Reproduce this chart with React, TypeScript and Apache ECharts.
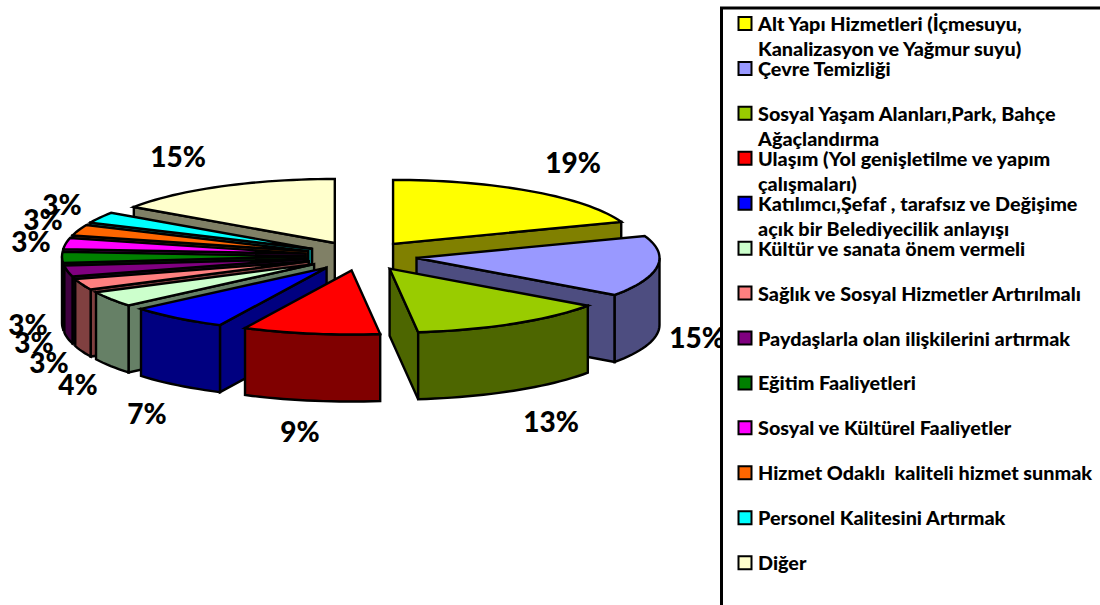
import React, { useEffect, useRef } from "react";
import * as echarts from "echarts";

const categories = [
  "Alt Yapı Hizmetleri (İçmesuyu,\nKanalizasyon ve Yağmur suyu)",
  "Çevre Temizliği",
  "Sosyal Yaşam Alanları,Park, Bahçe\nAğaçlandırma",
  "Ulaşım (Yol genişletilme ve yapım\nçalışmaları)",
  "Katılımcı,Şefaf , tarafsız ve Değişime\naçık bir Belediyecilik anlayışı",
  "Kültür ve sanata önem vermeli",
  "Sağlık ve Sosyal Hizmetler Artırılmalı",
  "Paydaşlarla olan ilişkilerini artırmak",
  "Eğitim Faaliyetleri",
  "Sosyal ve Kültürel Faaliyetler",
  "Hizmet Odaklı  kaliteli hizmet sunmak",
  "Personel Kalitesini Artırmak",
  "Diğer",
];
const values = [19.4, 15.4, 13.3, 9.1, 6.6, 3.9, 2.8, 2.8, 2.79, 2.79, 2.79, 2.79, 15.49];
const colors = ["#FFFF00", "#9999FF", "#99CC00", "#FF0000", "#0000FF", "#CCFFCC", "#FF8080", "#800080", "#008000", "#FF00FF", "#FF6600", "#00FFFF", "#FFFFCC"];
const labelPositions = [
  [573, 162], [697, 337], [551, 421], [300, 431], [147, 413], [78, 384],
  [49, 362], [34, 342], [28, 324], [31, 241], [43, 219], [62, 204], [178, 156],
];

const FONT = "Lato, Carlito, Calibri, sans-serif";
const CX = 361, CY = 256, RX = 243, RY = 64, DEPTH = 67, EXPLODE = 56;
const total = values.reduce((a, b) => a + b, 0);
const rad = (d: number) => (d * Math.PI) / 180;

const starts: number[] = [];
values.reduce((acc, v, i) => {
  starts[i] = acc;
  return acc + (v / total) * 360;
}, 0);
const sweep = (i: number) => (values[i] / total) * 360;
const mid = (i: number) => starts[i] + sweep(i) / 2;

// painter's order: the slices furthest from the viewer first
const drawOrder = values.map((_, i) => i).sort((a, b) => Math.cos(rad(mid(b))) - Math.cos(rad(mid(a))));

const darken = (hex: string) => {
  const n = parseInt(hex.slice(1), 16);
  const c = [(n >> 16) & 255, (n >> 8) & 255, n & 255].map((x) => Math.round(x / 2));
  return `rgb(${c[0]},${c[1]},${c[2]})`;
};

const STROKE = { stroke: "#000", lineWidth: 2.4, lineJoin: "miter" as const, miterLimit: 4 };

function renderSlice(_params: any, api: any) {
  const i = api.value(0);
  const a = starts[i];
  const b = a + sweep(i);
  const m = mid(i);
  const ax = CX + EXPLODE * Math.sin(rad(m));
  const ay = CY - (EXPLODE * RY / RX) * Math.cos(rad(m));
  const rim = (t: number): [number, number] => [ax + RX * Math.sin(rad(t)), ay - RY * Math.cos(rad(t))];
  const arc = (from: number, to: number) => {
    const n = Math.max(2, Math.ceil((to - from) / 2));
    const pts: [number, number][] = [];
    for (let k = 0; k <= n; k++) pts.push(rim(from + ((to - from) * k) / n));
    return pts;
  };
  const down = (p: [number, number]): [number, number] => [p[0], p[1] + DEPTH];
  const dark = darken(colors[i]);
  const poly = (points: [number, number][], fill: string) => ({
    type: "polygon",
    shape: { points },
    style: { fill, ...STROKE },
  });
  const children: any[] = [];
  const apex: [number, number] = [ax, ay];
  const wall = (t: number) => {
    const e = rim(t);
    children.push(poly([apex, e, down(e), down(apex)], dark));
  };
  if (Math.sin(rad(a)) < 0) wall(a);
  if (Math.sin(rad(b)) > 0) wall(b);
  const from = Math.max(a, 90);
  const to = Math.min(b, 270);
  if (to > from) {
    const top = arc(from, to);
    children.push(poly([...top, ...top.slice().reverse().map(down)], dark));
  }
  children.push(poly([apex, ...arc(a, b)], colors[i]));
  return { type: "group", children };
}

function renderLabel(_params: any, api: any) {
  const i = api.value(0);
  return {
    type: "text",
    x: labelPositions[i][0],
    y: labelPositions[i][1],
    style: {
      text: `${Math.round(values[i])}%`,
      font: `900 28px ${FONT}`,
      fill: "#000",
      textAlign: "center",
      textVerticalAlign: "middle",
    },
  };
}

function legendElements() {
  const els: any[] = [
    {
      type: "rect",
      z: 10,
      shape: { x: 721.5, y: 8, width: 500, height: 800 },
      style: { fill: "#fff", stroke: "#000", lineWidth: 3 },
    },
  ];
  categories.forEach((name, i) => {
    const y = 24 + 44.93 * i;
    els.push({
      type: "rect",
      z: 11,
      shape: { x: 738.5, y: y - 7, width: 13, height: 13 },
      style: { fill: colors[i], stroke: "#000", lineWidth: 2 },
    });
    els.push({
      type: "text",
      z: 11,
      x: 758,
      y: y - 13.5,
      style: {
        text: name,
        font: `900 19.8px ${FONT}`,
        lineHeight: 25,
        fill: "#000",
        textAlign: "left",
        textVerticalAlign: "top",
      },
    });
  });
  return els;
}

export default function App() {
  const ref = useRef<HTMLDivElement>(null);
  useEffect(() => {
    document.body.style.margin = "0";
    const chart = echarts.init(ref.current!, undefined, { renderer: "svg" });
    chart.setOption({
      animation: false,
      backgroundColor: "#fff",
      graphic: { elements: legendElements() },
      series: [
        {
          type: "custom",
          coordinateSystem: "none",
          z: 2,
          silent: true,
          data: drawOrder.map((i) => [i, values[i]]),
          renderItem: renderSlice,
        },
        {
          type: "custom",
          coordinateSystem: "none",
          z: 3,
          silent: true,
          data: values.map((v, i) => [i, v]),
          renderItem: renderLabel,
        },
      ],
    });
    return () => chart.dispose();
  }, []);
  return <div ref={ref} style={{ position: "fixed", left: 0, top: 0, width: 1100, height: 605 }} />;
}
